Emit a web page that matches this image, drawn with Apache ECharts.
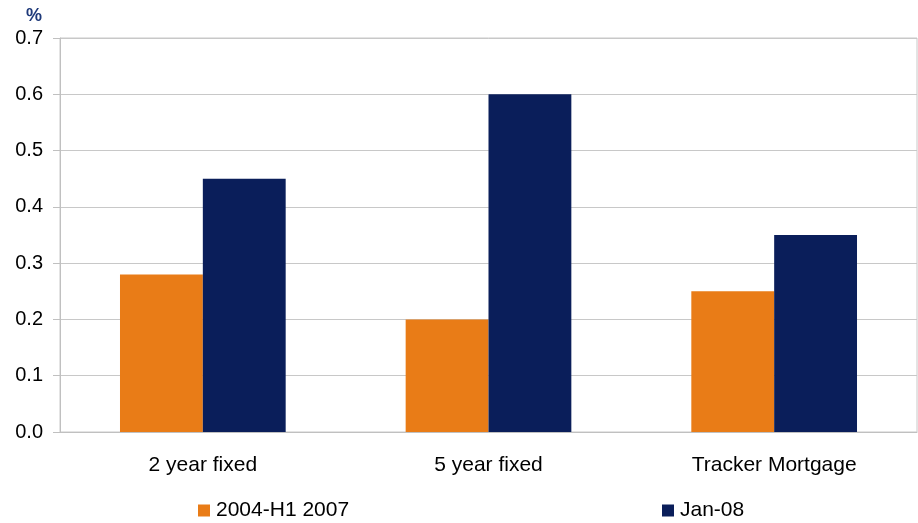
<!DOCTYPE html>
<html>
<head>
<meta charset="utf-8">
<script src="https://cdn.jsdelivr.net/npm/echarts@6/dist/echarts.min.js"></script>
<style>
  html, body { margin: 0; padding: 0; background: #fff; }
  #chart { width: 918px; height: 523px; }
</style>
</head>
<body>
<div id="chart"></div>
<script>
const categories = ['2 year fixed', '5 year fixed', 'Tracker Mortgage'];
const seriesNames = ['2004-H1 2007', 'Jan-08'];
const early = [0.28, 0.2, 0.25];
const jan08 = [0.45, 0.6, 0.35];
const colors = ['#E97C17', '#0A1E5A'];

const chart = echarts.init(document.getElementById('chart'), null, { renderer: 'canvas' });

const legendBase = {
  top: 495,
  itemWidth: 12,
  itemHeight: 12,
  itemGap: 6,
  icon: 'rect',
  textStyle: { fontSize: 21, color: '#000', padding: [0, 0, 0, 1] },
};

const option = {
  animation: false,
  textStyle: { fontFamily: 'Liberation Sans, Arial, sans-serif' },
  grid: {
    left: 60,
    right: 1,
    top: 38,
    bottom: 91,
    show: true,
    borderColor: '#C8C8C8',
    borderWidth: 1,
  },
  legend: [
    Object.assign({}, legendBase, { left: 193, data: [seriesNames[0]] }),
    Object.assign({}, legendBase, { left: 657, data: [seriesNames[1]] }),
  ],
  graphic: [
    {
      type: 'text',
      left: 26,
      top: 7,
      style: { text: '%', fontSize: 18, fontWeight: 'bold', fill: '#1F3A7A', fontFamily: 'Liberation Sans, Arial' },
    },
  ],
  xAxis: {
    type: 'category',
    data: categories,
    axisLine: { lineStyle: { color: '#C0C0C0' } },
    axisTick: { show: false },
    axisLabel: { fontSize: 21, color: '#000', margin: 23 },
  },
  yAxis: {
    type: 'value',
    min: 0,
    max: 0.7,
    interval: 0.1,
    axisLine: { show: true, lineStyle: { color: '#C0C0C0' } },
    axisTick: { show: true, length: 7, lineStyle: { color: '#C0C0C0' } },
    splitLine: { lineStyle: { color: '#C8C8C8' } },
    axisLabel: {
      fontSize: 20,
      color: '#000',
      margin: 17,
      formatter: (v) => v.toFixed(1),
    },
  },
  series: [
    {
      name: seriesNames[0],
      type: 'bar',
      data: early,
      barGap: '0%',
      barCategoryGap: '42%',
      itemStyle: { color: colors[0] },
    },
    {
      name: seriesNames[1],
      type: 'bar',
      data: jan08,
      itemStyle: { color: colors[1] },
    },
  ],
};

chart.setOption(option);
</script>
</body>
</html>
